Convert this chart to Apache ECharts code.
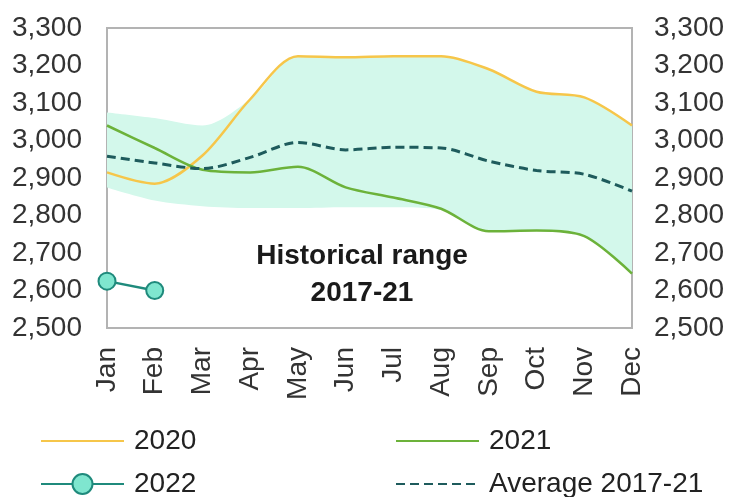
<!DOCTYPE html>
<html>
<head>
<meta charset="utf-8">
<script src="https://cdn.jsdelivr.net/npm/echarts@6/dist/echarts.min.js"></script>
<style>
  html, body { margin: 0; padding: 0; background: #fff; }
  #chart { width: 729px; height: 497px; }
</style>
</head>
<body>
<div id="chart"></div>
<script>
// months on the x axis
var months = ['Jan', 'Feb', 'Mar', 'Apr', 'May', 'Jun', 'Jul', 'Aug', 'Sep', 'Oct', 'Nov', 'Dec'];

// values
var y2020 = [2915, 2885, 2960, 3110, 3225, 3222, 3225, 3225, 3190, 3130, 3115, 3040];
var y2021 = [3040, 2980, 2922, 2915, 2930, 2875, 2848, 2818, 2758, 2760, 2745, 2645];
var y2022 = [2625, 2600];
var avg = [2958, 2940, 2925, 2955, 2995, 2975, 2982, 2980, 2945, 2920, 2910, 2865];

// historical range 2017-21
var rangeLow = [2875, 2840, 2825, 2820, 2820, 2822, 2822, 2815, 2758, 2760, 2743, 2645];
var rangeHigh = [3075, 3060, 3040, 3110, 3225, 3222, 3225, 3225, 3190, 3130, 3115, 3040];

// y axis ticks
var yMin = 2500, yMax = 3300, yStep = 100;

var rangeSpan = rangeHigh.map(function(v, i) { return v - rangeLow[i]; });

function fmt(v) {
    return String(v).replace(/\B(?=(\d{3})+(?!\d))/g, ',');
}

var font = 'Liberation Sans, Arial, sans-serif';

var myChart = echarts.init(document.getElementById('chart'));

// one legend per entry so they sit in two columns
function legendAt(name, left, top, hideSymbol, h) {
    return {
        data: [name],
        left: left,
        top: top,
        padding: 0,
        itemWidth: 83,
        itemHeight: h,
        selectedMode: false,
        itemStyle: hideSymbol ? { opacity: 0 } : {},
        textStyle: { fontFamily: font, fontSize: 28, color: '#222', padding: [0, 0, 0, 5] }
    };
}

var option = {
    animation: false,
    backgroundColor: '#fff',
    textStyle: { fontFamily: font },
    grid: {
        left: 107, right: 97, top: 28, bottom: 169,
        show: true, borderColor: '#b3b3b3', borderWidth: 2
    },
    legend: [
        legendAt('2020', 40, 427, true, 19),
        legendAt('2021', 395, 427, true, 19),
        legendAt('2022', 40, 470, false, 25),
        legendAt('Average 2017-21', 395, 470, true, 19)
    ],
    xAxis: {
        type: 'category',
        data: months,
        boundaryGap: false,
        axisLine: { show: false },
        axisTick: { show: false },
        axisLabel: { rotate: 90, margin: 19, fontSize: 28, color: '#333', fontFamily: font }
    },
    yAxis: [0, 1].map(function(i) {
        return {
            type: 'value',
            position: i === 0 ? 'left' : 'right',
            min: yMin, max: yMax, interval: yStep,
            axisLine: { show: false },
            axisTick: { show: false },
            splitLine: { show: false },
            axisLabel: {
                margin: i === 0 ? 25 : 22,
                fontSize: 28, color: '#333', fontFamily: font,
                formatter: fmt
            }
        };
    }),
    graphic: [{
        type: 'text',
        x: 362,
        y: 238,
        style: {
            text: 'Historical range\n2017-21',
            align: 'center',
            verticalAlign: 'top',
            fontFamily: font,
            fontWeight: 'bold',
            fontSize: 28,
            lineHeight: 37,
            fill: '#1a1a1a'
        }
    }],
    series: [
        {
            name: 'rangeLow',
            type: 'line',
            data: rangeLow,
            stack: 'range',
            smooth: 0.3,
            symbol: 'none',
            lineStyle: { opacity: 0 },
            areaStyle: { opacity: 0 },
            silent: true,
            z: 1
        },
        {
            name: 'range',
            type: 'line',
            data: rangeSpan,
            stack: 'range',
            smooth: 0.3,
            symbol: 'none',
            lineStyle: { opacity: 0 },
            areaStyle: { color: '#d3f8eb', opacity: 1 },
            silent: true,
            z: 1
        },
        {
            name: '2020',
            type: 'line',
            data: y2020,
            smooth: 0.3,
            symbol: 'none',
            color: '#f6c64a',
            lineStyle: { color: '#f6c64a', width: 2.5 },
            z: 3
        },
        {
            name: '2021',
            type: 'line',
            data: y2021,
            smooth: 0.3,
            symbol: 'none',
            color: '#6cb23a',
            lineStyle: { color: '#6cb23a', width: 2.5 },
            z: 3
        },
        {
            name: '2022',
            type: 'line',
            data: y2022,
            symbol: 'circle',
            symbolSize: 17,
            color: '#7fe6cf',
            itemStyle: { color: '#7fe6cf', borderColor: '#1f8a7c', borderWidth: 2 },
            lineStyle: { color: '#1f8a7c', width: 2.5 },
            z: 4
        },
        {
            name: 'Average 2017-21',
            type: 'line',
            data: avg,
            smooth: 0.3,
            symbol: 'none',
            color: '#1e5b5c',
            lineStyle: { color: '#1e5b5c', width: 3, type: [9, 5] },
            z: 3
        }
    ]
};

myChart.setOption(option);
</script>
</body>
</html>
